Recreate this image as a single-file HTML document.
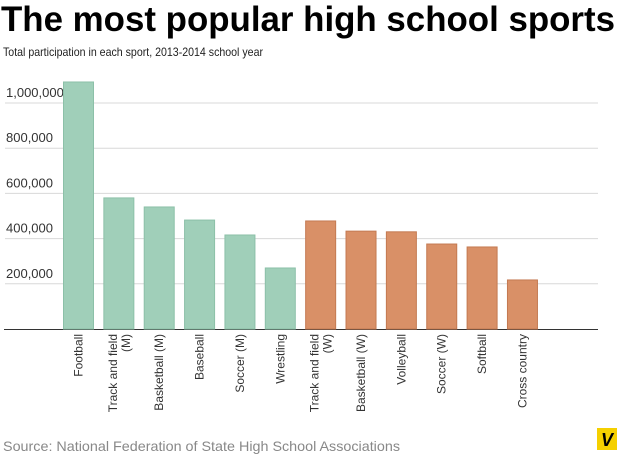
<!DOCTYPE html>
<html><head><meta charset="utf-8"><style>
html,body{margin:0;padding:0;background:#fff;width:620px;height:456px;overflow:hidden}
svg{display:block;font-family:"Liberation Sans",sans-serif}
</style></head><body>
<svg id="chart" width="620" height="456">
<text x="1" y="31" font-size="35" font-weight="bold" fill="#000" textLength="614" lengthAdjust="spacingAndGlyphs">The most popular high school sports</text>
<text x="3" y="56" font-size="12" fill="#222" textLength="260" lengthAdjust="spacingAndGlyphs">Total participation in each sport, 2013-2014 school year</text>
<g id="grid"></g><g id="bars"></g><g id="labels"></g>
<text x="3" y="451" font-size="14" fill="#888" textLength="397" lengthAdjust="spacingAndGlyphs">Source: National Federation of State High School Associations</text>
<g>
<rect x="597" y="428" width="20" height="22" fill="#f5d000"/>
<text x="607" y="446" font-size="18" font-weight="bold" font-style="italic" text-anchor="middle" fill="#000">V</text>
</g>
</svg>
<script>
const categories=[["Football"],["Track and field","(M)"],["Basketball (M)"],["Baseball"],["Soccer (M)"],["Wrestling"],["Track and field","(W)"],["Basketball (W)"],["Volleyball"],["Soccer (W)"],["Softball"],["Cross country"]];
const values=[1093000,580000,540000,482000,416000,270000,478000,433000,430000,376000,363000,217000];
const groups=["M","M","M","M","M","M","W","W","W","W","W","W"];
const ticks=[200000,400000,600000,800000,1000000];
const tickLabels=["200,000","400,000","600,000","800,000","1,000,000"];
const NS="http://www.w3.org/2000/svg";
const base=329, pxPer=45.2/200000;
function y(v){return base-v*pxPer;}
function x(i){return 63+i*40.36;}
const bw=31;
function mk(t,a,p){const e=document.createElementNS(NS,t);for(const k in a)e.setAttribute(k,a[k]);p.appendChild(e);return e;}
const grid=document.getElementById('grid'),bars=document.getElementById('bars'),labels=document.getElementById('labels');
ticks.forEach((t,i)=>{
 const l=mk('line',{x1:5,x2:598,y1:y(t),y2:y(t),stroke:'#d8d8d8','stroke-width':1},grid);
 
 
 const tx=mk('text',{x:6,y:y(t)-6,'font-size':13,fill:'#333'},grid);
 tx.textContent=tickLabels[i];
 
 
});
const ax=mk('line',{x1:4,x2:598,y1:base+0.5,y2:base+0.5,stroke:'#333','stroke-width':1},grid);


values.forEach((v,i)=>{
 const m=groups[i]==="M";
 const r=mk('rect',{x:x(i)+0.5,y:y(v),width:bw-1,height:base-y(v),fill:m?'#a0cfb9':'#d99067',stroke:m?'#8cc0a8':'#c47a52','stroke-width':1},bars);
 
 
 const cx=x(i)+bw/2, lines=categories[i];
 lines.forEach((s,j)=>{
  const lx=cx+4+(lines.length>1?(j===0?-6:7):0);
  const t=mk('text',{x:0,y:0,'font-size':12,fill:'#333','text-anchor':'end',transform:`translate(${lx},334) rotate(-90)`},labels);
  t.textContent=s;
  
  
 });
});
</script>
</body></html>
